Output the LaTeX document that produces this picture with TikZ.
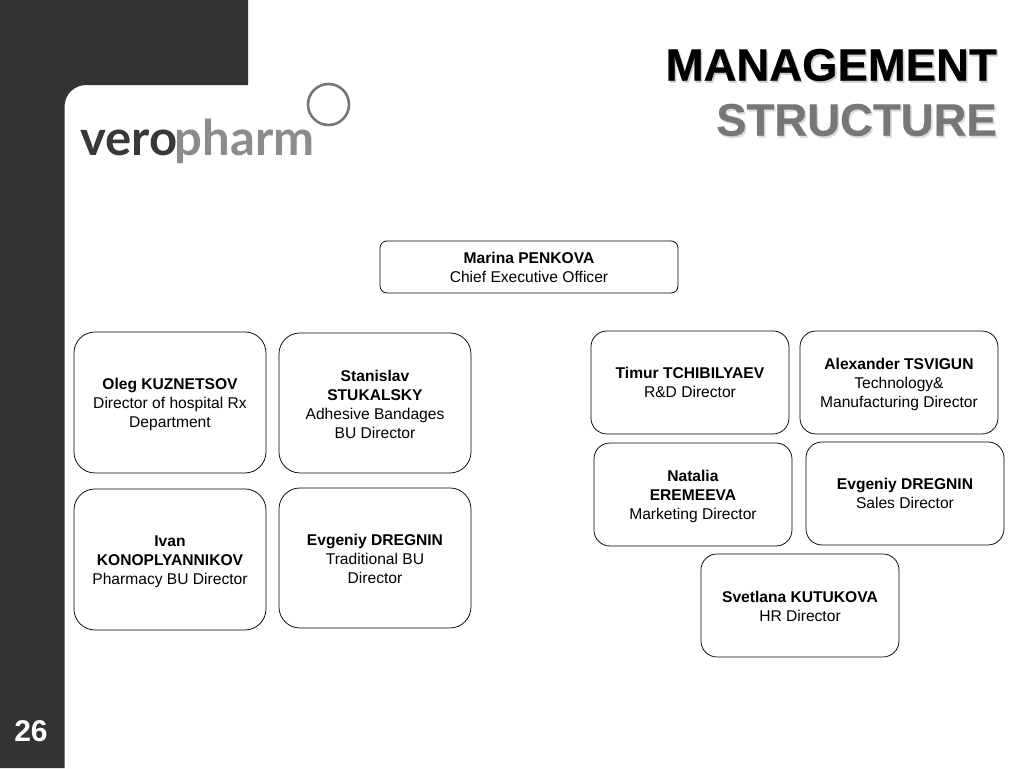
\documentclass[tikz,border=0pt]{standalone}
\usepackage{fontspec}
\setmainfont{Liberation Sans}
\newfontfamily\logofont{Lato}
\newfontfamily\ttlfont[BoldFont={Liberation Sans Bold},BoldFeatures={FakeBold=0.5}]{Liberation Sans}
\definecolor{panel}{HTML}{333333}
\definecolor{logoG}{HTML}{8C8C8C}
\definecolor{logoD}{HTML}{383838}
\tikzset{
 px/.style={x=1pt,y=-1pt},
 card/.style={draw=black,line width=0.75pt,fill=white,rounded corners=#1,inner sep=0pt,align=center,font=\fontsize{15.6}{19}\selectfont},
 card/.default=14pt,
 ttl/.style={anchor=east,inner sep=0pt,font=\fontsize{45.5}{45.5}\selectfont\ttlfont\bfseries},
 logotxt/.style={anchor=base west,inner sep=0pt,font=\fontsize{49}{49}\selectfont\logofont\bfseries},
}
\newcommand{\cardat}[7]{% name x1 y1 x2 y2 radius text
 \node[card=#6,minimum width=#4pt-#2pt,minimum height=#5pt-#3pt,anchor=north west] (#1) at (#2-0.4,#3-0.4) {#7};}
\newcommand{\lowa}{\rule{0pt}{14.5pt}}
\newcommand{\lowb}{\rule{0pt}{12.5pt}}
\begin{document}
\begin{tikzpicture}[px]
\useasboundingbox (0,0) rectangle (1024,768);
\fill[white] (0,0) rectangle (1024,768);
\fill[panel] (0,0) -- (248,0) -- (248,85) -- (86.5,85) .. controls (74.5,85) and (64.5,94) .. (64.5,107) -- (64.5,768) -- (0,768) -- cycle;
\node[anchor=center,inner sep=0pt,text=white,font=\fontsize{30}{30}\selectfont\bfseries] (num) at (31,731.5) {26};
\draw[logoG!85!black,line width=2.6pt] (328.5,104.5) circle[radius=20.5];
\node[logotxt,text=logoD] (vero) at (80,155) {vero};
\node[logotxt,text=logoG] (pharm) at (174.5,155) {pharm};
\node[ttl,text=gray!40] (s1) at (998.5,67) {MANAGEMENT};
\node[ttl,text=black] (t1) at (997,65) {MANAGEMENT};
\node[ttl,text=gray!28] (s2) at (998.5,122) {STRUCTURE};
\node[ttl,text=logoG!85!black] (t2) at (997,120) {STRUCTURE};
\cardat{ceo}{380}{241}{678}{293}{7pt}{\lowb\textbf{Marina PENKOVA}\\Chief Executive Officer}
\cardat{a}{74}{332}{266}{473}{21pt}{\lowa\textbf{Oleg KUZNETSOV}\\Director of hospital Rx\\Department}
\cardat{b}{279}{333}{471}{473}{21pt}{\lowa\textbf{Stanislav}\\\textbf{STUKALSKY}\\Adhesive Bandages\\BU Director}
\cardat{c}{74}{489}{266}{630}{21pt}{\lowa\textbf{Ivan}\\\textbf{KONOPLYANNIKOV}\\Pharmacy BU Director}
\cardat{d}{279}{488}{471}{628}{21pt}{\lowb\textbf{Evgeniy DREGNIN}\\Traditional BU\\Director}
\cardat{e}{591}{331}{789}{434}{16pt}{\textbf{Timur TCHIBILYAEV}\\R\&D Director}
\cardat{f}{800}{331}{998}{434}{16pt}{\lowa\textbf{Alexander TSVIGUN}\\Technology\&\\Manufacturing Director}
\cardat{g}{594}{443}{792}{546}{16pt}{\lowa\textbf{Natalia}\\\textbf{EREMEEVA}\\Marketing Director}
\cardat{h}{806}{442}{1004}{545}{16pt}{\textbf{Evgeniy DREGNIN}\\Sales Director}
\cardat{i}{701}{554}{899}{657}{16pt}{\lowb\textbf{Svetlana KUTUKOVA}\\HR Director}
\end{tikzpicture}
\end{document}
